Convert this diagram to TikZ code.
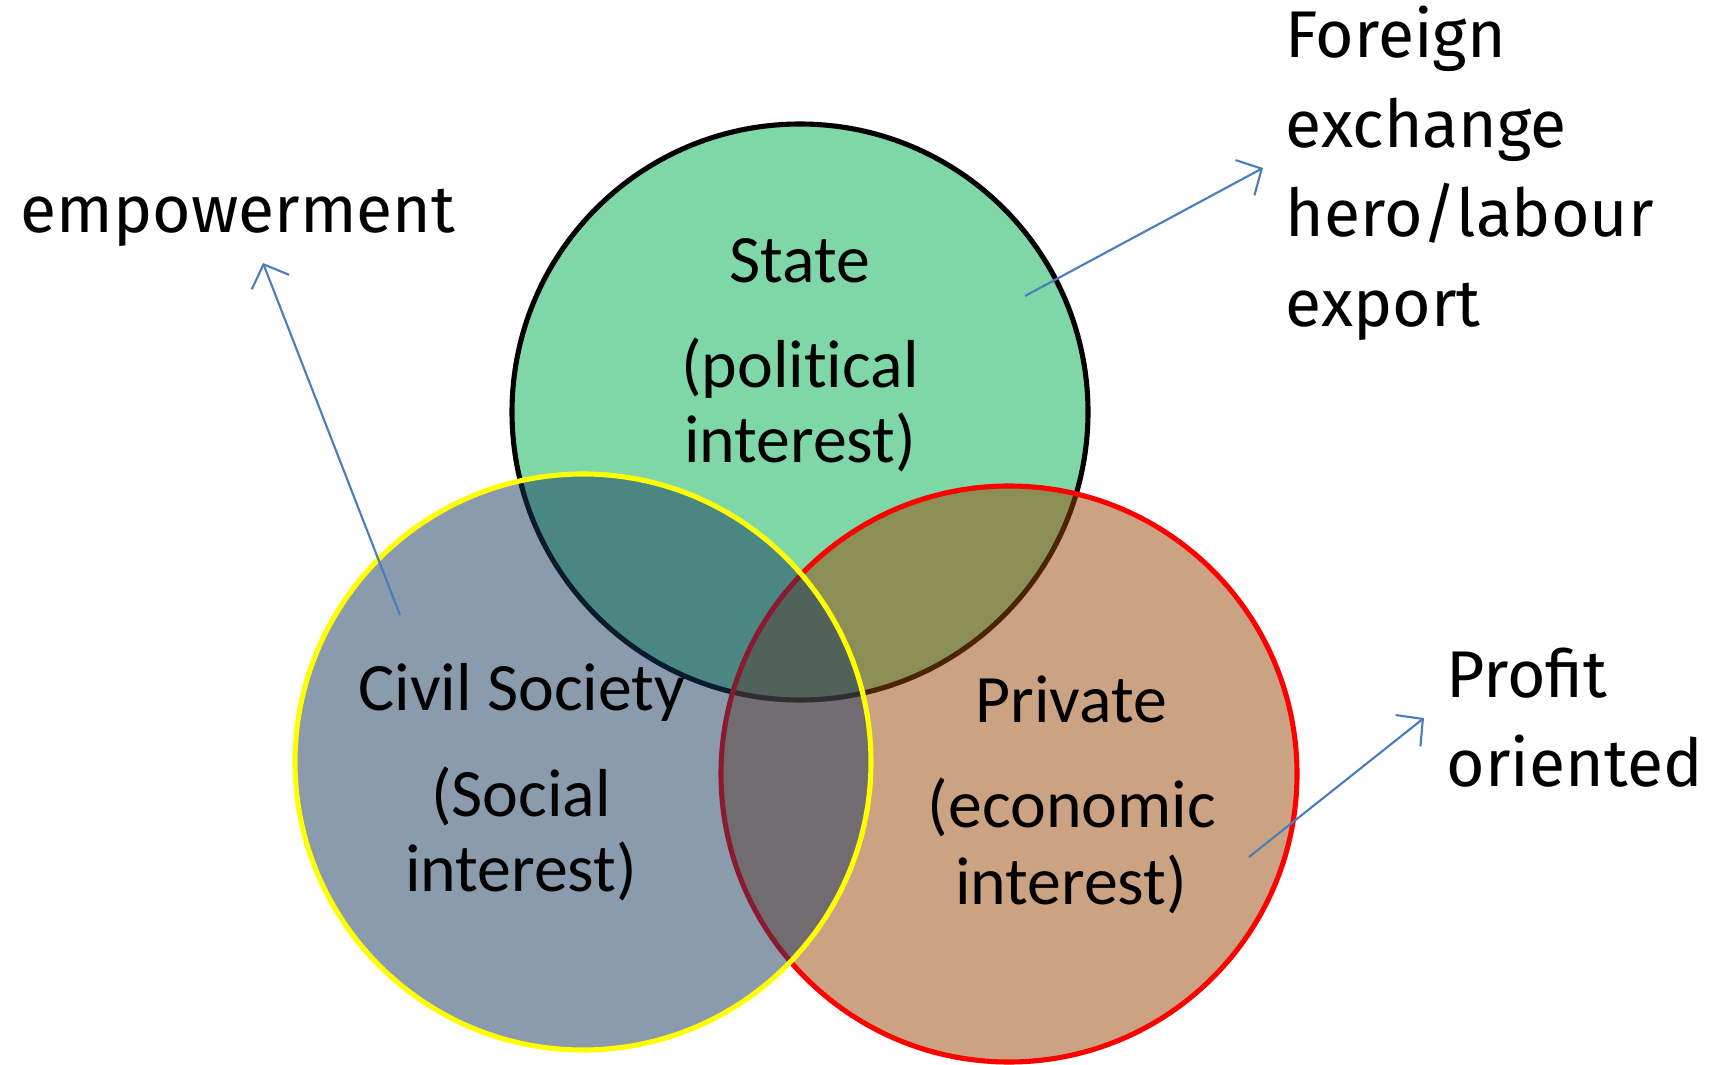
\documentclass[tikz,border=0pt]{standalone}
\usepackage{fontspec}
\setmainfont{Carlito}[Ligatures=NoCommon]
\newfontfamily\gillfont{Fira Sans}
\usetikzlibrary{arrows.meta}
\definecolor{stategreen}{HTML}{00B050}
\definecolor{civilblue}{HTML}{17375E}
\definecolor{privbrown}{HTML}{984807}
\definecolor{arrowblue}{HTML}{4A7EBB}
\definecolor{civyellow}{HTML}{FFFF00}
\tikzset{
  setbox/.style={line width=1.45pt, fill opacity=0.5},
  inlabel/.style={font=\fontsize{19.3pt}{21pt}\selectfont, inner sep=0pt, anchor=base},
  outlabel/.style={font=\gillfont\fontsize{18.8pt}{21pt}\selectfont, inner sep=0pt, anchor=base west},
  pointer/.style={draw=arrowblue, line width=0.6pt, -{Straight Barb[length=1.9mm, width=4mm, line width=0.6pt]}}
}
\begin{document}
\begin{tikzpicture}[x=0.1mm, y=-0.1mm]
\useasboundingbox (0,0) rectangle (1713,1065);
% circles: state first, then private, then civil on top
\draw[setbox, draw=black, fill=stategreen] (800,412) circle[radius=28.8mm];
\draw[setbox, draw=red, fill=privbrown] (1009,774) circle[radius=28.8mm];
\draw[setbox, draw=civyellow, fill=civilblue] (583,762) circle[radius=28.8mm];
% circle labels
\node[inlabel] (stateA) at (800,283) {State};
\node[inlabel] (stateB) at (800,388) {(political};
\node[inlabel] (stateC) at (800,463) {interest)};
\node[inlabel] (civA) at (522,710) {Civil Society};
\node[inlabel] (civB) at (521,816) {(Social};
\node[inlabel] (civC) at (521,892) {interest)};
\node[inlabel] (privA) at (1071,723) {Private};
\node[inlabel] (privB) at (1072,827) {(economic};
\node[inlabel] (privC) at (1071,904) {interest)};
% outside labels
\node[outlabel] (emp) at (20,233) {empowerment};
\node[outlabel] (forA) at (1285,58) {Foreign};
\node[outlabel] (forB) at (1285,148) {exchange};
\node[outlabel] (forC) at (1285,237) {hero/labour};
\node[outlabel] (forD) at (1285,327) {export};
\node[outlabel] (proA) at (1446,698) {Profit};
\node[outlabel] (proB) at (1446,787) {oriented};
% arrows
\coordinate (empS) at (400,615);
\coordinate (empE) at (263,263);
\coordinate (forS) at (1025,296);
\coordinate (forE) at (1263,168);
\coordinate (proS) at (1249,857);
\coordinate (proE) at (1424,718);
\draw[pointer] (empS) -- (empE);
\draw[pointer] (forS) -- (forE);
\draw[pointer] (proS) -- (proE);
\end{tikzpicture}
\end{document}
